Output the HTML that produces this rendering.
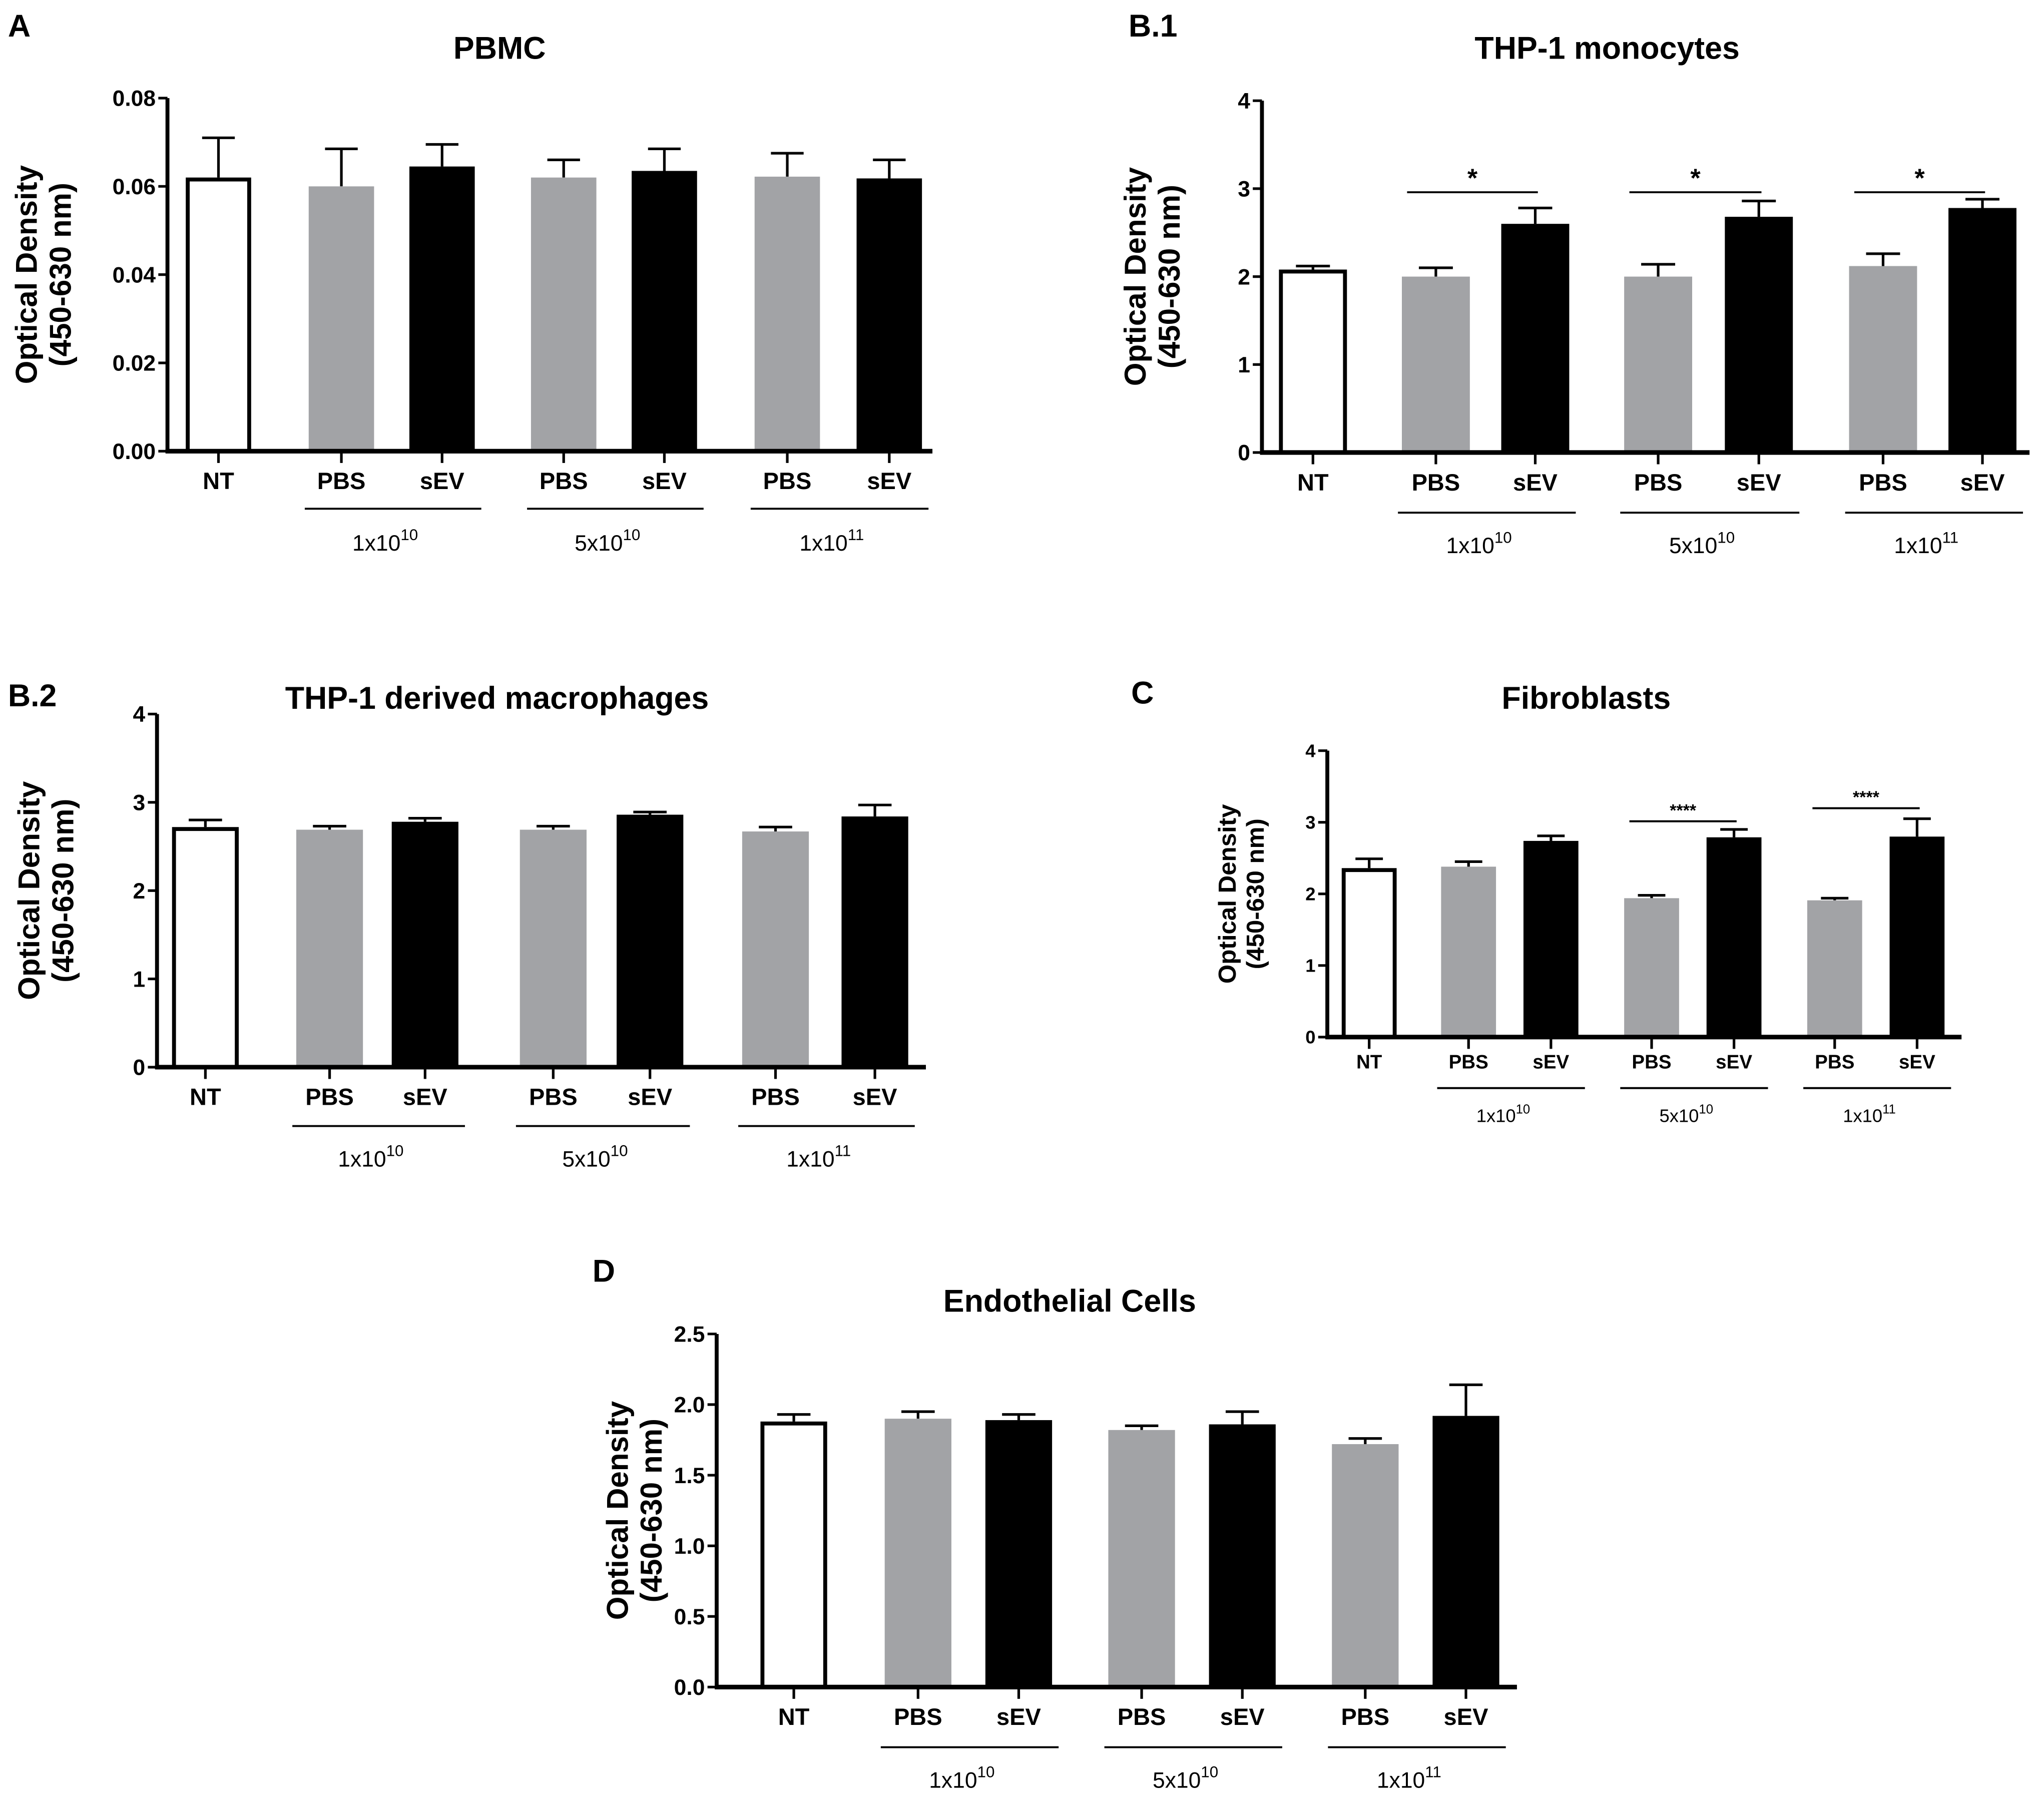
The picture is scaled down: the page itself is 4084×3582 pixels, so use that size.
<!DOCTYPE html>
<html><head><meta charset="utf-8"><style>
html,body{margin:0;padding:0;background:#fff;}
svg{display:block;}
text{font-family:"Liberation Sans",sans-serif;fill:#000;}
.tk{font-weight:bold;}
.cat{font-weight:bold;}
.ttl{font-weight:bold;font-size:24px;}
.pl{font-weight:bold;font-size:24px;}
.yt{font-weight:bold;}
</style></head><body>
<svg id="fig" width="4084" height="3582" viewBox="0 0 1563 1371" xmlns="http://www.w3.org/2000/svg"></svg>
<script>
const categories = ["NT","PBS","sEV","PBS","sEV","PBS","sEV"];
const doses = ["1x10", "5x10", "1x10"];
const doseExp = ["10","10","11"];
const aVals = [0.062,0.060,0.0645,0.062,0.0635,0.0622,0.0618];
const aErr  = [0.071,0.0685,0.0695,0.066,0.0685,0.0675,0.066];
const aTicks = [0,0.02,0.04,0.06,0.08];
const aTickLabels = ["0.00","0.02","0.04","0.06","0.08"];
const b1Vals = [2.08,2.0,2.6,2.0,2.68,2.12,2.78];
const b1Err  = [2.12,2.1,2.78,2.14,2.86,2.26,2.88];
const b2Vals = [2.72,2.69,2.78,2.69,2.86,2.67,2.84];
const b2Err  = [2.8,2.73,2.82,2.73,2.89,2.72,2.97];
const cVals = [2.36,2.38,2.74,1.94,2.79,1.91,2.8];
const cErr  = [2.49,2.45,2.81,1.98,2.9,1.94,3.05];
const intTicks = [0,1,2,3,4];
const intTickLabels = ["0","1","2","3","4"];
const dVals = [1.88,1.9,1.89,1.82,1.86,1.72,1.92];
const dErr  = [1.93,1.95,1.93,1.85,1.95,1.76,2.14];
const dTicks = [0,0.5,1,1.5,2,2.5];
const dTickLabels = ["0.0","0.5","1.0","1.5","2.0","2.5"];

const NS="http://www.w3.org/2000/svg";
const svg=document.getElementById('fig');
function el(tag,attrs,parent,txt){const e=document.createElementNS(NS,tag);for(const k in attrs)e.setAttribute(k,attrs[k]);if(txt!==undefined)e.textContent=txt;(parent||svg).appendChild(e);return e;}

function panel(p){
  const g=el('g',{});
  
  
  const y=v=>p.y0-(v-p.min)/(p.max-p.min)*(p.y0-p.y1);
  const fs=p.scale||1;
  const lab=el('text',{x:p.labX,y:p.labY,class:'pl'},g,p.label);
  
  
  const t=el('text',{x:p.titleX,y:p.titleY,class:'ttl','text-anchor':'middle'},g,p.title);
  
  
  const yt=el('text',{transform:`translate(${p.ytX},${(p.y0+p.y1)/2}) rotate(-90)`,class:'yt','text-anchor':'middle','font-size':23*fs},g);
  
  
  el('tspan',{x:0,dy:0},yt,'Optical Density');
  el('tspan',{x:0,dy:26*fs},yt,'(450-630 nm)');
  p.vals.forEach((v,i)=>{
    const cx=p.cx[i],w=p.bw;
    const e=p.err[i];
    const el1=el('line',{x1:cx,x2:cx,y1:y(v),y2:y(e),stroke:'#000','stroke-width':2},g);
    
    
    const cap=el('line',{x1:cx-w*0.25,x2:cx+w*0.25,y1:y(e),y2:y(e),stroke:'#000','stroke-width':2},g);
    
    
    let r;
    if(i===0){r=el('rect',{x:cx-w/2+1.5,y:y(v)+1.5,width:w-3,height:p.y0-y(v)-1.5,fill:'#fff',stroke:'#000','stroke-width':3},g);}
    else r=el('rect',{x:cx-w/2,y:y(v),width:w,height:p.y0-y(v),fill:(i%2===1)?'#a2a3a6':'#000'},g);
    
    
    const tk=el('line',{x1:cx,x2:cx,y1:p.y0,y2:p.y0+9,stroke:'#000','stroke-width':2},g);
    
    
    const ct=el('text',{x:cx,y:p.catY,class:'cat','text-anchor':'middle','font-size':18*fs},g,categories[i]);
    
    
  });
  const ya=el('line',{x1:p.x0,x2:p.x0,y1:p.y1,y2:p.y0+1.5,stroke:'#000','stroke-width':3},g);
  
  
  const xa=el('line',{x1:p.x0-1.5,x2:p.xEnd,y1:p.y0,y2:p.y0,stroke:'#000','stroke-width':3.5},g);
  
  
  p.ticks.forEach((v,i)=>{
    const tl=el('line',{x1:p.x0-7,x2:p.x0,y1:y(v),y2:y(v),stroke:'#000','stroke-width':2},g);
    
    
    const tx=el('text',{x:p.x0-9,y:y(v)+6*fs,class:'tk','text-anchor':'end','font-size':17*fs},g,p.tickLabels[i]);
    
    
  });
  for(let k=0;k<3;k++){
    const a=p.cx[1+2*k]-p.bw/2-3,b=p.cx[2+2*k]+p.bw/2+5;
    const gl=el('line',{x1:a,x2:b,y1:p.grpY,y2:p.grpY,stroke:'#000','stroke-width':1.5},g);
    
    
    const dt=el('text',{x:(a+b)/2-6,y:p.doseY,'text-anchor':'middle','font-size':17*fs},g);
    
    
    el('tspan',{},dt,doses[k]);
    el('tspan',{dy:-8*fs,'font-size':12*fs},dt,doseExp[k]);
  }
  (p.sig||[]).forEach(s=>{
    const a=p.cx[s.i]-p.bw/2+4,b=p.cx[s.j]+2;
    const sl=el('line',{x1:a,x2:b,y1:s.y,y2:s.y,stroke:'#000','stroke-width':1.5},g);
    
    
    const st=el('text',{x:(a+b)/2,y:s.y-4,'text-anchor':'middle','font-size':s.fs,'font-weight':'bold'},g,s.t);
    
    
  });
}

panel({name:'panel-a-pbmc',label:'A',labX:6,labY:28,title:'PBMC',titleX:382,titleY:45,ytX:28,
  x0:128,xEnd:713,y0:345,y1:75,min:0,max:0.08,vals:aVals,err:aErr,ticks:aTicks,tickLabels:aTickLabels,
  cx:[167,261,338,431,508,602,680],bw:50,catY:374,grpY:389,doseY:421});
panel({name:'panel-b1-thp1-monocytes',label:'B.1',labX:863,labY:28,title:'THP-1 monocytes',titleX:1229,titleY:45,ytX:876,
  x0:965,xEnd:1552,y0:346,y1:77,min:0,max:4,vals:b1Vals,err:b1Err,ticks:intTicks,tickLabels:intTickLabels,
  cx:[1004,1098,1174,1268,1345,1440,1516],bw:52,catY:375,grpY:392,doseY:423,
  sig:[{i:1,j:2,y:147,t:'*',fs:20},{i:3,j:4,y:147,t:'*',fs:20},{i:5,j:6,y:147,t:'*',fs:20}]});
panel({name:'panel-b2-thp1-macrophages',label:'B.2',labX:6,labY:540,title:'THP-1 derived macrophages',titleX:380,titleY:542,ytX:30,
  x0:120,xEnd:708,y0:816,y1:546,min:0,max:4,vals:b2Vals,err:b2Err,ticks:intTicks,tickLabels:intTickLabels,
  cx:[157,252,325,423,497,593,669],bw:51,catY:845,grpY:861,doseY:892});
panel({name:'panel-c-fibroblasts',label:'C',labX:865,labY:538,title:'Fibroblasts',titleX:1213,titleY:542,ytX:945,scale:0.82,
  x0:1015,xEnd:1500,y0:793,y1:574,min:0,max:4,vals:cVals,err:cErr,ticks:intTicks,tickLabels:intTickLabels,
  cx:[1047,1123,1186,1263,1326,1403,1466],bw:42,catY:817,grpY:832,doseY:858,
  sig:[{i:3,j:4,y:628,t:'****',fs:13},{i:5,j:6,y:618,t:'****',fs:13}]});
panel({name:'panel-d-endothelial',label:'D',labX:453,labY:980,title:'Endothelial Cells',titleX:818,titleY:1003,ytX:480,
  x0:548,xEnd:1160,y0:1290,y1:1020,min:0,max:2.5,vals:dVals,err:dErr,ticks:dTicks,tickLabels:dTickLabels,
  cx:[607,702,779,873,950,1044,1121],bw:51,catY:1319,grpY:1336,doseY:1367});
</script>
</body></html>
